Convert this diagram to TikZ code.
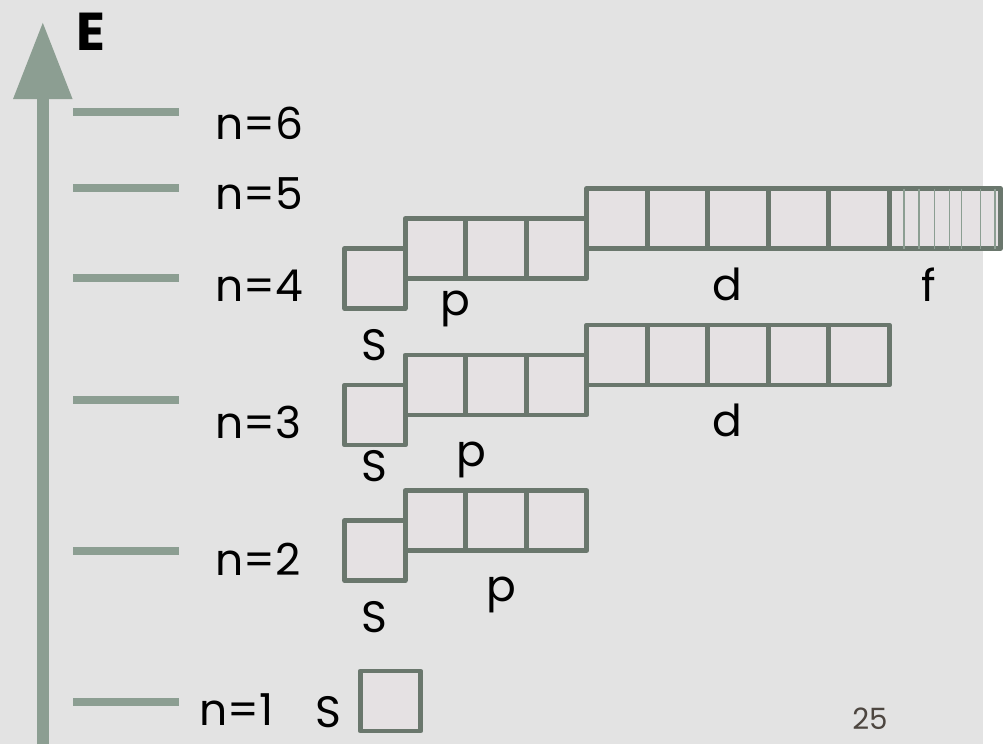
\documentclass[tikz,border=0pt]{standalone}
\usepackage{fontspec}
\setmainfont{Poppins}
\usepackage{tikz}
\usetikzlibrary{positioning,arrows.meta,calc}
\definecolor{slidegray}{HTML}{E3E3E3}
\definecolor{sage}{HTML}{8C9E92}
\definecolor{boxline}{HTML}{6A776D}
\definecolor{boxfill}{HTML}{E5E1E3}
\definecolor{pagenum}{HTML}{4D4640}

\begin{document}
\begin{tikzpicture}[
    x=0.75pt, y=-0.75pt,
    every node/.style={font=\fontsize{33}{36}\selectfont, inner sep=0pt},
    orb/.style={
        rectangle, draw=boxline, fill=boxfill, line width=3.5pt, line join=round,
        minimum width=45.375pt, minimum height=45pt, outer sep=0pt
    },
    level/.style={sage, line width=6pt},
    hatch/.style={sage, line width=1.1pt},
    lbl/.style={anchor=west}
]

\useasboundingbox (0,0) rectangle (1003,744);
\fill[slidegray] (0,0) rectangle (983,744);
\fill[white] (983,0) rectangle (1003,744);

\coordinate (axisbot) at (42.8,744);
\coordinate (axistop) at (42.8,21.7);
\draw[sage, line width=9pt, -{Triangle[width=42pt, length=58pt]}] (axisbot) -- (axistop);
\node[font=\fontsize{40}{44}\selectfont\bfseries] (E) at (91,32) {E};

\foreach \n/\y in {6/112,5/187.5,4/278,3/399.5,2/551,1/701.7} {
    \coordinate (lv\n) at (73.3,\y);
    \draw[level] (lv\n) -- ++(105.7,0);
}

\node[lbl] (n6) at (215,123.5) {n=6};
\node[lbl] (n5) at (215,194) {n=5};
\node[lbl] (n4) at (215,285.7) {n=4};
\node[lbl] (n3) at (215,422.5) {n=3};
\node[lbl] (n2) at (215,559) {n=2};
\node[lbl] (n1) at (199,710) {n=1};

\foreach \r/\y in {4/278.5,3/415,2/550.5} {
    \node[orb] (s\r) at (375,\y) {};
    \node[orb, anchor=south west] (p\r1) at (s\r.east) {};
    \foreach \i [count=\j from 1] in {2,3}
        \node[orb, right=0pt of p\r\j] (p\r\i) {};
}

\foreach \r in {4,3} {
    \node[orb, anchor=south west] (d\r1) at (p\r3.east) {};
    \foreach \i [count=\j from 1] in {2,...,5}
        \node[orb, right=0pt of d\r\j] (d\r\i) {};
}

\node[orb, anchor=west, minimum width=83.4pt] (f4) at (d45.east) {};
\foreach \dx in {14.6,29.6,45.3,60.3,72,91,105.6}
    \draw[hatch] ([xshift=\dx*0.75pt]f4.north west) -- ([xshift=\dx*0.75pt]f4.south west);

\node[orb] (s1) at (390.5,701) {};

\node (sl4) at (374,345.5) {S};
\node (pl4) at (455,308.5) {p};
\node (dl4) at (727.5,284.5) {d};
\node (fl4) at (929,284.5) {f};
\node (sl3) at (374,466.5) {S};
\node (pl3) at (471,460) {p};
\node (dl3) at (727.5,420.5) {d};
\node (sl2) at (374,617.5) {S};
\node (pl2) at (501,595) {p};
\node (sl1) at (328,712) {S};

\node[font=\fontsize{22}{24}\selectfont, text=pagenum] (page) at (870,719) {25};

\end{tikzpicture}
\end{document}
